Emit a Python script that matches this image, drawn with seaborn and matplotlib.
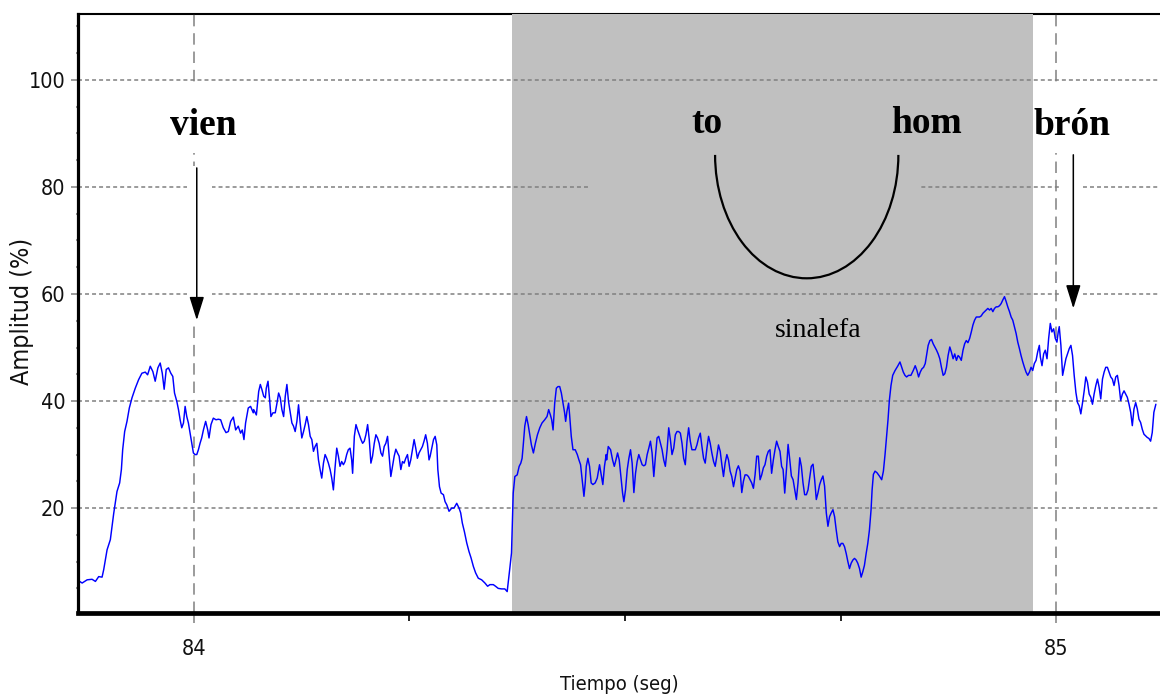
import os
import matplotlib
matplotlib.use("Agg")
import matplotlib.pyplot as plt
from matplotlib import font_manager
from matplotlib.font_manager import FontProperties
from matplotlib.patches import Arc, Rectangle
from matplotlib.ticker import MultipleLocator
import seaborn as sns

# amplitude trace in six pieces (time in s, amplitude in %)
times_a = [83.8647, 83.8705, 83.8763, 83.8820, 83.8859, 83.8897, 83.8936, 83.8955, 83.8994, 83.9032,
           83.9052, 83.9071, 83.9090, 83.9109, 83.9140, 83.9160, 83.9175, 83.9198, 83.9225, 83.9252,
           83.9283, 83.9321, 83.9360, 83.9398, 83.9437, 83.9464, 83.9495, 83.9525, 83.9552, 83.9583,
           83.9610, 83.9634, 83.9656, 83.9680, 83.9706, 83.9733, 83.9756, 83.9776, 83.9803, 83.9822,
           83.9841, 83.9860, 83.9880, 83.9899, 83.9918, 83.9937, 83.9957, 83.9976, 83.9995, 84.0014,
           84.0034, 84.0053, 84.0072, 84.0091, 84.0111, 84.0137, 84.0161, 84.0176, 84.0199, 84.0226,
           84.0257, 84.0284, 84.0311, 84.0342, 84.0373, 84.0400, 84.0427, 84.0458, 84.0485, 84.0515,
           84.0542, 84.0562, 84.0581, 84.0600, 84.0631, 84.0658, 84.0689]
amp_a = [6.6, 6.0, 6.6, 6.7, 6.3, 7.2, 7.1, 8.5, 12.2, 14.1,
         16.6, 19.0, 21.0, 23.1, 24.7, 27.2, 30.9, 34.3, 36.2, 38.7,
         40.6, 42.4, 44.0, 45.2, 45.4, 44.9, 46.5, 45.5, 43.7, 46.2,
         47.1, 45.2, 42.2, 45.9, 46.2, 45.2, 44.6, 41.5, 39.9, 38.4,
         36.5, 35.0, 35.9, 39.0, 37.1, 35.9, 34.0, 32.1, 30.3, 30.0,
         30.0, 30.9, 32.1, 33.1, 34.6, 36.2, 34.6, 33.1, 35.6, 36.8,
         36.5, 36.6, 36.5, 35.0, 34.1, 34.3, 36.2, 37.0, 34.6, 35.3,
         34.0, 34.6, 32.8, 35.9, 38.7, 39.0, 37.8]

times_b = [84.0694, 84.0725, 84.0752, 84.0771, 84.0790, 84.0810, 84.0829, 84.0840, 84.0860, 84.0879,
           84.0894, 84.0917, 84.0944, 84.0964, 84.0983, 84.1002, 84.1021, 84.1041, 84.1060, 84.1079,
           84.1098, 84.1118, 84.1137, 84.1156, 84.1175, 84.1195, 84.1214, 84.1233, 84.1252, 84.1272,
           84.1291, 84.1310, 84.1329, 84.1349, 84.1368, 84.1387, 84.1406, 84.1426, 84.1445, 84.1464,
           84.1483, 84.1503, 84.1522, 84.1541, 84.1560, 84.1580, 84.1599, 84.1618, 84.1637, 84.1657,
           84.1676, 84.1695, 84.1714, 84.1734, 84.1753, 84.1772, 84.1791, 84.1811, 84.1830, 84.1841,
           84.1861, 84.1880, 84.1899, 84.1918, 84.1938, 84.1957, 84.1976, 84.1995, 84.2015, 84.2034,
           84.2053, 84.2072, 84.2092, 84.2111, 84.2130, 84.2149, 84.2169, 84.2188, 84.2207, 84.2226,
           84.2246, 84.2265, 84.2284, 84.2303, 84.2323, 84.2342, 84.2361, 84.2380, 84.2400, 84.2419,
           84.2438, 84.2457, 84.2477, 84.2496, 84.2515, 84.2534, 84.2554, 84.2573, 84.2592, 84.2611,
           84.2631, 84.2650, 84.2669, 84.2688, 84.2708, 84.2727]
amp_b = [38.4, 37.4, 41.8, 43.1, 42.1, 40.9, 40.6, 42.4, 43.7, 40.2,
         37.1, 37.8, 37.8, 39.6, 41.5, 40.6, 38.4, 37.1, 40.9, 43.1,
         39.9, 37.8, 35.9, 35.3, 34.3, 36.2, 39.3, 35.9, 33.1, 34.3,
         35.6, 37.1, 35.6, 33.4, 32.8, 30.6, 31.5, 32.1, 29.0, 27.2,
         25.6, 28.4, 30.0, 29.3, 28.4, 27.2, 25.6, 23.4, 27.5, 31.2,
         29.7, 27.8, 28.7, 28.1, 28.7, 30.0, 30.9, 31.2, 29.0, 26.5,
         33.4, 35.6, 34.6, 33.7, 32.8, 32.1, 32.5, 33.7, 35.6, 32.8,
         28.4, 29.7, 32.1, 33.7, 33.1, 32.1, 30.3, 29.7, 31.5, 32.1,
         33.4, 29.7, 25.9, 27.8, 29.7, 31.0, 30.3, 29.7, 27.2, 28.7,
         28.4, 29.3, 30.0, 27.8, 29.0, 30.9, 32.8, 31.2, 29.3, 30.3,
         30.9, 31.5, 32.5, 33.7, 32.1, 29.0]

times_c = [84.2740, 84.2759, 84.2779, 84.2798, 84.2817, 84.2829, 84.2848, 84.2867, 84.2894, 84.2913,
           84.2933, 84.2959, 84.2990, 84.3017, 84.3048, 84.3075, 84.3094, 84.3113, 84.3137, 84.3164,
           84.3190, 84.3214, 84.3241, 84.3267, 84.3298, 84.3337, 84.3375, 84.3406, 84.3433, 84.3472,
           84.3498, 84.3529, 84.3568, 84.3606, 84.3633, 84.3649, 84.3664, 84.3683, 84.3695, 84.3703,
           84.3722, 84.3749, 84.3772, 84.3791, 84.3806, 84.3818, 84.3837, 84.3857, 84.3876, 84.3895,
           84.3914, 84.3937, 84.3960, 84.3984, 84.4011, 84.4037, 84.4068, 84.4095, 84.4114, 84.4134,
           84.4149, 84.4165, 84.4184, 84.4203, 84.4222, 84.4242, 84.4261, 84.4280, 84.4299, 84.4311,
           84.4326, 84.4345, 84.4357, 84.4376, 84.4396, 84.4422, 84.4446, 84.4465, 84.4484, 84.4499,
           84.4511, 84.4523, 84.4538, 84.4550, 84.4569, 84.4588, 84.4607, 84.4627, 84.4653, 84.4677,
           84.4704, 84.4723, 84.4742, 84.4761, 84.4781]
amp_c = [29.7, 31.2, 32.8, 33.4, 31.8, 27.2, 24.0, 22.8, 22.5, 21.2,
         20.6, 19.4, 20.0, 20.0, 20.9, 20.0, 19.1, 17.2, 15.6, 13.5,
         11.9, 10.7, 9.1, 7.9, 6.9, 6.6, 6.0, 5.4, 5.7, 5.7,
         5.4, 5.0, 4.9, 4.9, 4.4, 6.6, 8.8, 11.6, 18.4, 22.8,
         25.9, 26.2, 27.8, 28.4, 29.3, 31.5, 35.3, 37.1, 35.6, 33.7,
         31.8, 30.3, 32.1, 33.7, 35.0, 35.9, 36.5, 37.1, 38.4, 37.4,
         36.5, 34.6, 39.6, 42.4, 42.7, 42.7, 41.5, 39.6, 37.8, 36.2,
         38.1, 39.6, 37.4, 33.4, 30.9, 30.9, 30.0, 29.0, 28.1, 25.9,
         24.0, 22.2, 24.7, 27.8, 29.3, 27.8, 24.7, 24.4, 24.7, 25.6,
         28.1, 26.2, 24.4, 27.8, 30.0]

times_d = [84.4786, 84.4805, 84.4832, 84.4855, 84.4875, 84.4894, 84.4913, 84.4932, 84.4952, 84.4971,
           84.4986, 84.5005, 84.5025, 84.5044, 84.5063, 84.5082, 84.5102, 84.5121, 84.5140, 84.5159,
           84.5179, 84.5198, 84.5217, 84.5236, 84.5256, 84.5275, 84.5294, 84.5313, 84.5333, 84.5352,
           84.5371, 84.5390, 84.5410, 84.5429, 84.5448, 84.5467, 84.5487, 84.5506, 84.5525, 84.5544,
           84.5564, 84.5583, 84.5602, 84.5621, 84.5641, 84.5660, 84.5679, 84.5698, 84.5718, 84.5737,
           84.5756, 84.5775, 84.5795, 84.5814, 84.5833, 84.5852, 84.5872, 84.5891, 84.5910, 84.5929,
           84.5949, 84.5968, 84.5987, 84.6006, 84.6026, 84.6045, 84.6064, 84.6083, 84.6103, 84.6122,
           84.6141, 84.6160, 84.6180, 84.6199, 84.6218, 84.6237, 84.6257, 84.6276, 84.6295, 84.6314,
           84.6334, 84.6353, 84.6372, 84.6391, 84.6411, 84.6430, 84.6449, 84.6468, 84.6488, 84.6507,
           84.6526, 84.6545, 84.6565, 84.6584, 84.6603, 84.6622, 84.6642, 84.6661, 84.6680, 84.6699,
           84.6719, 84.6738, 84.6757, 84.6776, 84.6796, 84.6815]
amp_d = [29.0, 31.5, 30.9, 29.0, 27.8, 29.0, 30.3, 29.0, 25.9, 22.8,
         21.2, 23.4, 27.2, 29.3, 30.9, 28.4, 22.9, 26.5, 28.7, 30.0,
         29.0, 28.1, 27.9, 28.1, 30.0, 31.2, 32.5, 30.3, 25.9, 29.7,
         33.1, 33.4, 32.1, 30.9, 29.0, 27.8, 30.9, 35.0, 32.8, 30.0,
         31.2, 33.7, 34.3, 34.3, 34.0, 32.1, 29.3, 28.1, 32.5, 35.0,
         32.5, 30.9, 30.9, 30.9, 31.8, 33.1, 34.0, 31.5, 29.3, 28.4,
         31.2, 33.4, 32.1, 30.3, 28.7, 27.8, 29.7, 31.8, 30.6, 28.1,
         25.9, 28.4, 30.0, 29.0, 26.9, 25.9, 24.0, 25.6, 27.2, 27.9,
         26.9, 22.9, 25.0, 26.2, 26.2, 25.9, 25.3, 24.7, 23.7, 26.2,
         29.7, 29.7, 25.3, 26.2, 27.5, 28.1, 29.7, 30.6, 30.9, 26.5,
         29.0, 30.9, 32.5, 31.5, 30.6, 27.8]

times_e = [84.6832, 84.6851, 84.6871, 84.6890, 84.6909, 84.6928, 84.6948, 84.6967, 84.6986, 84.7005,
           84.7025, 84.7044, 84.7063, 84.7082, 84.7102, 84.7121, 84.7140, 84.7159, 84.7179, 84.7198,
           84.7217, 84.7236, 84.7256, 84.7275, 84.7294, 84.7313, 84.7333, 84.7352, 84.7371, 84.7390,
           84.7410, 84.7429, 84.7448, 84.7467, 84.7487, 84.7506, 84.7525, 84.7544, 84.7564, 84.7583,
           84.7602, 84.7621, 84.7641, 84.7660, 84.7679, 84.7698, 84.7718, 84.7737, 84.7756, 84.7775,
           84.7795, 84.7814, 84.7833, 84.7852, 84.7864, 84.7879, 84.7898, 84.7921, 84.7948, 84.7975,
           84.7995, 84.8014, 84.8033, 84.8049, 84.8064, 84.8083, 84.8103, 84.8130, 84.8160, 84.8187,
           84.8207, 84.8226, 84.8245, 84.8264, 84.8287, 84.8314, 84.8341, 84.8364, 84.8384, 84.8403,
           84.8422, 84.8441, 84.8461, 84.8480, 84.8495, 84.8514, 84.8534, 84.8553, 84.8572, 84.8591,
           84.8611, 84.8630, 84.8649, 84.8668, 84.8688, 84.8707, 84.8726, 84.8745, 84.8765, 84.8784,
           84.8803, 84.8822, 84.8842, 84.8861]
amp_e = [27.2, 22.8, 27.2, 31.9, 29.1, 26.0, 25.3, 23.4, 21.6, 24.7,
         29.4, 27.8, 24.7, 22.5, 22.5, 23.4, 25.6, 27.8, 28.2, 25.3,
         21.6, 22.8, 24.4, 25.3, 26.0, 24.1, 19.1, 16.6, 18.4, 19.1,
         19.7, 18.4, 15.9, 13.7, 12.8, 13.4, 13.4, 12.8, 11.5, 10.0,
         8.7, 9.7, 10.3, 10.6, 10.3, 9.7, 8.7, 7.1, 8.1, 9.3,
         11.5, 13.4, 15.9, 19.7, 23.4, 26.3, 26.9, 26.6, 26.0, 25.3,
         26.9, 30.0, 33.5, 36.6, 40.1, 42.9, 44.8, 45.7, 46.5, 47.3,
         46.3, 45.4, 44.8, 44.5, 44.8, 44.8, 45.7, 46.6, 45.7, 44.5,
         45.4, 46.0, 46.3, 47.0, 48.5, 50.4, 51.3, 51.5, 50.7, 50.1,
         49.5, 48.8, 47.9, 46.3, 44.8, 45.1, 46.3, 48.5, 50.1, 49.1,
         47.9, 48.8, 47.6, 48.5]

times_f = [84.8879, 84.8898, 84.8918, 84.8937, 84.8956, 84.8975, 84.8995, 84.9014, 84.9033, 84.9052,
           84.9072, 84.9091, 84.9110, 84.9129, 84.9149, 84.9168, 84.9187, 84.9206, 84.9226, 84.9245,
           84.9264, 84.9283, 84.9303, 84.9322, 84.9341, 84.9360, 84.9380, 84.9399, 84.9418, 84.9437,
           84.9457, 84.9476, 84.9495, 84.9514, 84.9534, 84.9553, 84.9572, 84.9591, 84.9611, 84.9630,
           84.9649, 84.9668, 84.9688, 84.9707, 84.9726, 84.9745, 84.9765, 84.9784, 84.9803, 84.9815,
           84.9834, 84.9853, 84.9872, 84.9892, 84.9911, 84.9930, 84.9949, 84.9969, 84.9988, 85.0007,
           85.0022, 85.0034, 85.0053, 85.0073, 85.0092, 85.0111, 85.0130, 85.0150, 85.0169, 85.0188,
           85.0207, 85.0227, 85.0246, 85.0265, 85.0284, 85.0304, 85.0323, 85.0342, 85.0361, 85.0381,
           85.0400, 85.0419, 85.0438, 85.0458, 85.0477, 85.0496, 85.0515, 85.0535, 85.0554, 85.0573,
           85.0592, 85.0612, 85.0631, 85.0650, 85.0669, 85.0689, 85.0708, 85.0727, 85.0746, 85.0766,
           85.0785, 85.0804, 85.0823, 85.0843, 85.0862, 85.0881, 85.0900, 85.0920, 85.0939, 85.0958,
           85.0977, 85.0997, 85.1016, 85.1035, 85.1054, 85.1074, 85.1093, 85.1112, 85.1131, 85.1154]
amp_f = [48.2, 47.6, 49.5, 50.7, 51.3, 50.9, 51.7, 52.9, 54.2, 55.1,
         55.7, 55.7, 55.7, 55.9, 56.4, 56.7, 57.0, 57.3, 57.0, 57.3,
         56.7, 57.3, 57.6, 57.6, 57.8, 58.2, 58.9, 59.5, 58.6, 57.6,
         56.7, 55.7, 55.1, 53.9, 52.6, 51.0, 49.8, 48.5, 47.3, 46.3,
         45.4, 44.8, 45.4, 46.3, 45.7, 47.0, 47.6, 49.2, 50.4, 48.2,
         46.6, 48.8, 49.5, 47.9, 51.7, 54.5, 52.9, 53.5, 51.7, 51.0,
         52.9, 53.9, 50.4, 44.8, 46.3, 47.9, 48.8, 49.8, 50.4, 48.5,
         44.8, 41.6, 39.7, 39.1, 37.6, 39.7, 41.9, 44.5, 43.5, 41.3,
         40.7, 39.4, 41.3, 42.9, 44.1, 42.6, 40.4, 44.1, 45.4, 46.3,
         46.3, 45.4, 44.5, 44.1, 42.9, 44.5, 44.8, 42.9, 40.1, 41.3,
         41.9, 41.3, 40.7, 39.4, 37.9, 35.4, 38.5, 39.7, 38.5, 36.6,
         36.0, 34.7, 33.8, 33.5, 33.2, 33.0, 32.5, 34.1, 37.9, 39.4]

x_ticks = [84, 85]
x_tick_labels = ['84', '85']
y_ticks = [20, 40, 60, 80, 100]
y_tick_labels = ['20', '40', '60', '80', '100']

# shaded stretch and the syllable annotations
span_start, span_end = 84.3689, 84.9730
syllables = ['vien', 'to', 'hom', 'brón']
syllable_t = [84.0107, 84.5950, 84.8489, 85.0177]
syllable_y = [89.7, 90.1, 90.1, 89.7]

time = times_a + times_b + times_c + times_d + times_e + times_f
amp = amp_a + amp_b + amp_c + amp_d + amp_e + amp_f

sns.set_style("white")
plt.rcParams['font.family'] = ['Liberation Sans', 'DejaVu Sans']

# a narrow sans for the axis texts, if one is on the system
narrow_path = None
system_fonts = {os.path.basename(p): p for p in font_manager.findSystemFonts()}
for name in ['LiberationSansNarrow-Regular.ttf', 'DejaVuSansCondensed.ttf']:
    if name in system_fonts:
        narrow_path = system_fonts[name]
        break
if narrow_path:
    tick_font = FontProperties(fname=narrow_path, size=15.5)
    label_font = FontProperties(fname=narrow_path, size=14.5)
    ylabel_font = FontProperties(fname=narrow_path, size=18)
else:
    tick_font = FontProperties(family='Liberation Sans', size=15)
    label_font = FontProperties(family='Liberation Sans', size=14)
    ylabel_font = FontProperties(family='Liberation Sans', size=16)

fig = plt.figure(figsize=(11.6, 6.98), dpi=100)
ax = fig.add_axes([78 / 1160, 85 / 698, 1082 / 1160, 599.5 / 698])

ax.axvspan(span_start, span_end, color='#c0c0c0', lw=0, zorder=0.4)
sns.lineplot(x=time, y=amp, color='#0000ff', linewidth=1.05, estimator=None, sort=False, ax=ax, zorder=2)

ax.set_xlim(83.8657, 85.1202)
ax.set_ylim(0.4, 112.4)
ax.set_xticks(x_ticks, labels=x_tick_labels, fontproperties=tick_font, color='#111111')
ax.set_yticks(y_ticks, labels=y_tick_labels, fontproperties=tick_font, color='#111111')
ax.xaxis.set_minor_locator(MultipleLocator(0.25))
ax.yaxis.set_minor_locator(MultipleLocator(5))

ax.set_axisbelow(True)
ax.yaxis.grid(True, which='major', color='#808080', linestyle=(0, (2.6, 2.0)), linewidth=1.1)
ax.xaxis.grid(True, which='major', color='#808080', linestyle=(0, (7.5, 4.5)), linewidth=1.1)

ax.tick_params(bottom=True, left=True, which='both', direction='out')
ax.tick_params(axis='x', which='major', length=7, width=1.1, color='#808080', pad=12)
ax.tick_params(axis='x', which='minor', length=5.5, width=1.2, color='black')
ax.tick_params(axis='y', which='major', length=5, width=1.1, color='#808080', pad=4)
ax.tick_params(axis='y', which='minor', length=1.5, width=1.5, color='#9a9a9a')

for side in ['left', 'bottom', 'top']:
    ax.spines[side].set_color('black')
ax.spines['left'].set_linewidth(2.3)
ax.spines['left'].set_zorder(5)
ax.spines['bottom'].set_linewidth(3.4)
ax.spines['bottom'].set_zorder(5)
ax.spines['top'].set_linewidth(1.5)
ax.spines['top'].set_zorder(0.3)
ax.spines['right'].set_visible(False)

ax.set_xlabel('Tiempo (seg)', fontproperties=label_font, color='#111111')
ax.xaxis.set_label_coords(0.5, -71 / 599.5)
ax.xaxis.label.set_va('center')
ax.set_ylabel('Amplitud (%)', fontproperties=ylabel_font, color='#111111')
ax.yaxis.set_label_coords(-56 / 1082, 302 / 599.5)
ax.yaxis.label.set_va('center')

# the pasted arc picture hides part of the 80 % gridline; words and arrows sit on white
ax.add_patch(Rectangle((84.4594, 78.5), 0.3826, 3.0, facecolor='#c0c0c0', lw=0, zorder=0.6))
ax.add_patch(Rectangle((83.9918, 54.5), 0.0290, 29.5, facecolor='white', lw=0, zorder=0.6))
ax.add_patch(Rectangle((85.0026, 57.0), 0.0284, 29.5, facecolor='white', lw=0, zorder=0.6))
ax.add_patch(Rectangle((83.9745, 86.4), 0.0730, 13.2, facecolor='white', lw=0, zorder=0.6))
ax.add_patch(Rectangle((84.9745, 86.4), 0.0830, 13.2, facecolor='white', lw=0, zorder=0.6))

for word, t, y in zip(syllables, syllable_t, syllable_y):
    ax.text(t, y, word, family='Liberation Serif', weight='bold', fontsize=27, color='black',
            ha='center', va='baseline', zorder=3)

ax.add_patch(Arc((84.7106, 85.98), 0.2125, 46.1, theta1=180, theta2=360,
                 color='black', lw=1.6, zorder=3))
ax.text(84.7240, 52.0, 'sinalefa', family='Liberation Serif', fontsize=20, color='black',
        ha='center', va='baseline', zorder=3)

arrow = dict(arrowstyle='-|>,head_length=0.8,head_width=0.25', color='black', lw=1.1,
             mutation_scale=18, shrinkA=0, shrinkB=0)
ax.annotate('', xy=(84.0034, 55.1), xytext=(84.0034, 83.55), arrowprops=arrow, zorder=3)
ax.annotate('', xy=(85.0197, 57.3), xytext=(85.0197, 86.0), arrowprops=arrow, zorder=3)

fig.savefig('out.png', dpi=100)
plt.close(fig)
